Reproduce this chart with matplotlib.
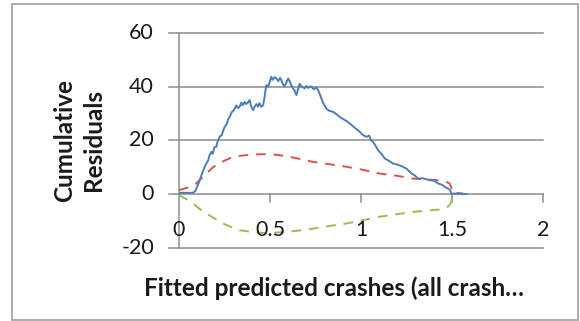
import matplotlib
matplotlib.use("Agg")
import matplotlib.pyplot as plt
from matplotlib.patches import Rectangle

# Cumulative residuals against fitted predicted crashes
cure_x = [0.0, 0.04, 0.077, 0.09, 0.095, 0.11, 0.123, 0.137, 0.15, 0.16, 0.168, 0.178, 0.185,
          0.195, 0.205, 0.212, 0.223, 0.235, 0.245, 0.251, 0.262, 0.27, 0.278, 0.29, 0.298,
          0.306, 0.315, 0.325, 0.333, 0.342, 0.35, 0.36, 0.368, 0.378, 0.388, 0.395, 0.401,
          0.407, 0.415, 0.425, 0.434, 0.442, 0.452, 0.462, 0.466, 0.47, 0.475, 0.48, 0.49,
          0.5, 0.507, 0.515, 0.525, 0.535, 0.545, 0.555, 0.562, 0.57, 0.58, 0.59, 0.6,
          0.608, 0.617, 0.625, 0.635, 0.645, 0.652, 0.663, 0.672, 0.68, 0.69, 0.7, 0.71,
          0.72, 0.727, 0.74, 0.755, 0.765, 0.775, 0.782, 0.795, 0.81, 0.825, 0.846, 0.86,
          0.883, 0.9, 0.92, 0.938, 0.96, 0.975, 0.993, 1.01, 1.03, 1.045, 1.055, 1.066,
          1.08, 1.093, 1.105, 1.118, 1.13, 1.15, 1.176, 1.2, 1.23, 1.25, 1.277, 1.295,
          1.313, 1.34, 1.377, 1.4, 1.423, 1.445, 1.465, 1.478, 1.49, 1.496, 1.515, 1.55, 1.58]
cure_y = [0.5, 0.5, 0.5, 1.2, 2.0, 4.5, 7.0, 9.5, 11.4, 12.5, 14.5, 15.7, 15.0,
          17.5, 17.6, 19.5, 21.3, 22.0, 24.0, 25.0, 26.0, 27.8, 28.7, 30.5, 31.0,
          31.8, 33.0, 32.0, 32.5, 34.0, 33.0, 34.3, 33.5, 34.0, 35.0, 33.0, 32.0,
          31.2, 32.5, 33.5, 32.5, 33.8, 32.5, 33.0, 34.5, 36.0, 38.5, 40.5, 40.0,
          42.0, 43.6, 42.5, 43.5, 43.0, 42.0, 43.2, 42.4, 41.0, 40.0, 41.5, 43.0,
          42.0, 40.5, 39.5, 38.5, 36.8, 38.5, 41.0, 40.0, 39.8, 39.3, 40.2, 39.5,
          40.0, 40.0, 39.0, 39.6, 38.5, 37.0, 35.6, 33.5, 31.8, 31.0, 30.6, 30.0,
          28.7, 28.0, 27.2, 26.3, 25.0, 24.2, 23.2, 22.0, 21.3, 21.8, 20.0, 19.5,
          18.0, 16.4, 15.5, 14.5, 13.3, 12.5, 11.4, 11.0, 10.2, 9.5, 7.7, 7.0,
          5.8, 5.9, 5.2, 5.0, 4.0, 3.5, 2.5, 2.1, 1.5, 0.2, 0.2, 0.2, 0.0]

upper_x = [0.0, 0.05, 0.095, 0.14, 0.187, 0.23, 0.278, 0.33, 0.37, 0.43, 0.498, 0.55, 0.608,
           0.67, 0.736, 0.82, 0.919, 1.0, 1.1, 1.2, 1.286, 1.35, 1.414, 1.46, 1.487, 1.497,
           1.5, 1.53, 1.56]
upper_y = [1.5, 2.5, 4.0, 7.0, 10.0, 11.8, 13.3, 14.2, 14.5, 14.8, 14.9, 14.5, 13.9,
           13.0, 12.0, 11.2, 10.2, 9.2, 7.7, 6.8, 5.8, 5.5, 5.2, 4.8, 4.0, 2.5,
           0.8, 0.4, 0.2]

lower_x = [0.0, 0.04, 0.077, 0.11, 0.15, 0.2, 0.242, 0.29, 0.333, 0.4, 0.46, 0.53, 0.59,
           0.66, 0.736, 0.82, 0.919, 1.0, 1.1, 1.2, 1.286, 1.36, 1.43, 1.465, 1.487, 1.497,
           1.5, 1.515, 1.57]
lower_y = [-0.4, -1.8, -3.5, -5.3, -7.2, -9.2, -10.9, -12.3, -13.4, -14.0, -14.4, -14.3, -14.0,
           -13.5, -12.8, -11.9, -10.9, -9.8, -8.4, -7.4, -6.6, -6.1, -5.7, -5.2, -4.1, -2.8,
           -1.6, 0.0, 0.0]

x_ticks = [0, 0.5, 1, 1.5, 2]
x_tick_labels = ["0", "0.5", "1", "1.5", "2"]
y_ticks = [-20, 0, 20, 40, 60]
y_tick_labels = ["-20", "0", "20", "40", "60"]

W, H = 580, 321
fig = plt.figure(figsize=(W / 100, H / 100), dpi=100)
fig.patch.set_facecolor("white")

# chart frame
fig.add_artist(Rectangle((12 / W, 1 - 320 / H), (578 - 12) / W, (320 - 4) / H,
                         transform=fig.transFigure, fill=False,
                         edgecolor="#a6a6a6", linewidth=1.3))

x0, x1 = 179, 543
y_top, y_bot = 32.7, 248
ax = fig.add_axes([x0 / W, 1 - y_bot / H, (x1 - x0) / W, (y_bot - y_top) / H])
ax.set_xlim(0, 2)
ax.set_ylim(-20, 60)

grid_c = "#8c8c8c"
for yv in y_ticks:
    ax.plot([-10 / 182, 2], [yv, yv], color=grid_c, lw=1.1, clip_on=False, zorder=1)
ax.plot([0, 0], [-20, 60], color=grid_c, lw=1.1, clip_on=False, zorder=1)
for xv in x_ticks[1:]:
    ax.plot([xv, xv], [0, -3.0], color=grid_c, lw=1.1, clip_on=False, zorder=1)

for s in ax.spines.values():
    s.set_visible(False)
ax.set_xticks([])
ax.set_yticks([])

tick_font = dict(family=["Lato", "DejaVu Sans"], fontsize=15.5, color="#1a1a1a")
for yv, lab in zip(y_ticks, y_tick_labels):
    ax.text(-25 / 182, yv, lab, ha="right", va="center", **tick_font)
for xv, lab in zip(x_ticks, x_tick_labels):
    ax.text(xv, -13.3, lab, ha="center", va="center", **tick_font)

ax.plot(cure_x, cure_y, color="#4a7ebb", lw=1.4, zorder=3)
ax.plot(upper_x, upper_y, color="#d9534f", lw=1.4, dashes=(5, 4), zorder=2)
ax.plot(lower_x, lower_y, color="#9bbb59", lw=1.4, dashes=(5, 4), zorder=2)

label_font = dict(family=["Lato", "DejaVu Sans"], fontsize=17.5, fontweight="bold", color="#1a1a1a")
fig.text(79 / W, 1 - 140 / H, "Cumulative\nResiduals", rotation=90, ha="center", va="center",
         multialignment="center", linespacing=1.35, **label_font)
fig.text(334 / W, 1 - 288 / H, "Fitted predicted crashes (all crash\u2026", ha="center",
         va="center", **label_font)

fig.savefig("out.png", dpi=100)
